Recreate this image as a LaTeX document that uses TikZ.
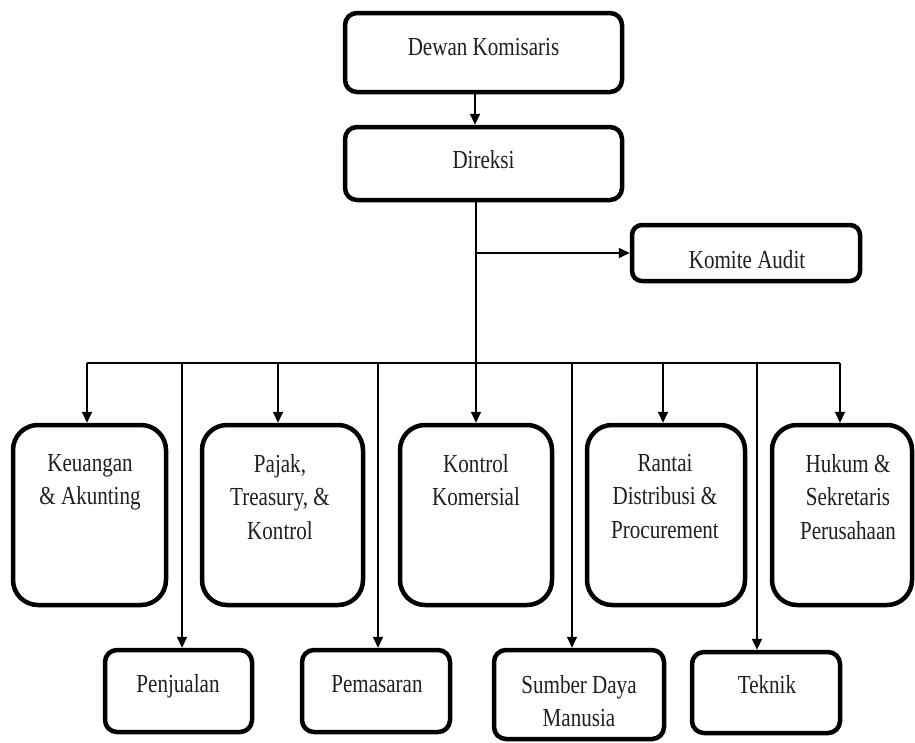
\documentclass[tikz,border=0pt]{standalone}
\usepackage{fontspec}
\setmainfont{Liberation Serif}[FakeStretch=0.81]
\usetikzlibrary{arrows.meta}
\begin{document}
\begin{tikzpicture}[x=1pt,y=-1pt,
  box/.style={draw=black, line width=4.5pt, rounded corners=#1, inner sep=0pt},
  box/.default=12pt,
  lbl/.style={font=\fontsize{26}{33.5}\selectfont, align=center, inner sep=0pt, text=black!88},
  link/.style={line width=1.8pt},
  arr/.style={link, -{Triangle[length=11pt,width=10pt]}}]
\useasboundingbox (0,0) rectangle (915,742);

% top management
\node[box=12pt, minimum width=277pt, minimum height=79pt] (dk) at (483.5,52.5) {};
\node[lbl, anchor=base] (dk-t) at (483.5,55) {Dewan Komisaris};
\node[box=12pt, minimum width=277pt, minimum height=73pt] (dir) at (483.5,163.5) {};
\node[lbl, anchor=base] (dir-t) at (483.5,168) {Direksi};
\node[box=10pt, minimum width=228pt, minimum height=56pt] (ka) at (746,253) {};
\node[lbl, anchor=base] (ka-t) at (747,268) {Komite Audit};

% departments (tall boxes)
\node[box=25pt, minimum width=153pt, minimum height=180pt] (keu) at (89.5,515) {};
\node[lbl, anchor=north] (keu-t) at (90,454) {Keuangan\\\& Akunting};
\node[box=25pt, minimum width=161pt, minimum height=180pt] (pjk) at (282.5,515) {};
\node[lbl, anchor=north] (pjk-t) at (280,454) {Pajak,\\Treasury, \&\\Kontrol};
\node[box=25pt, minimum width=152pt, minimum height=180pt] (kk) at (476,515) {};
\node[lbl, anchor=north] (kk-t) at (476,454) {Kontrol\\Komersial};
\node[box=25pt, minimum width=158pt, minimum height=180pt] (rd) at (666,515) {};
\node[lbl, anchor=north] (rd-t) at (665,454) {Rantai\\Distribusi \&\\Procurement};
\node[box=25pt, minimum width=140pt, minimum height=180pt] (hk) at (842,515) {};
\node[lbl, anchor=north] (hk-t) at (848,454) {Hukum \&\\Sekretaris\\Perusahaan};

% departments (lower row)
\node[box=12pt, minimum width=147pt, minimum height=82pt] (pen) at (178.5,691) {};
\node[lbl, anchor=base] (pen-t) at (178,692) {Penjualan};
\node[box=12pt, minimum width=148pt, minimum height=82pt] (pem) at (376,691) {};
\node[lbl, anchor=base] (pem-t) at (377,692) {Pemasaran};
\node[box=12pt, minimum width=170pt, minimum height=89pt] (sdm) at (579,694.5) {};
\node[lbl, anchor=north] (sdm-t) at (579,675) {Sumber Daya\\Manusia};
\node[box=12pt, minimum width=148pt, minimum height=81pt] (tek) at (766,692.5) {};
\node[lbl, anchor=base] (tek-t) at (767,693) {Teknik};

% connectors
\coordinate (trunk) at (476,200);
\coordinate (kasplit) at (476,253);
\coordinate (busL) at (87,363);
\coordinate (busR) at (840,363);
\draw[arr] (dk.south -| 475,0) -- (dir.north -| 475,0);
\draw[arr] (dir.south -| trunk) -- (kk.north);
\draw[arr] (kasplit) -- (ka.west);
\draw[link] (busL) -- (busR);
\draw[arr] (busL) -- (busL |- keu.north);
\draw[arr] (busR) -- (busR |- hk.north);
\draw[arr] (278,363) -- (278,0 |- pjk.north);
\draw[arr] (663,363) -- (663,0 |- rd.north);
\draw[arr] (182,363) -- (182,0 |- pen.north);
\draw[arr] (378,363) -- (378,0 |- pem.north);
\draw[arr] (572,363) -- (572,0 |- sdm.north);
\draw[arr] (757,363) -- (757,0 |- tek.north);
\end{tikzpicture}
\end{document}
